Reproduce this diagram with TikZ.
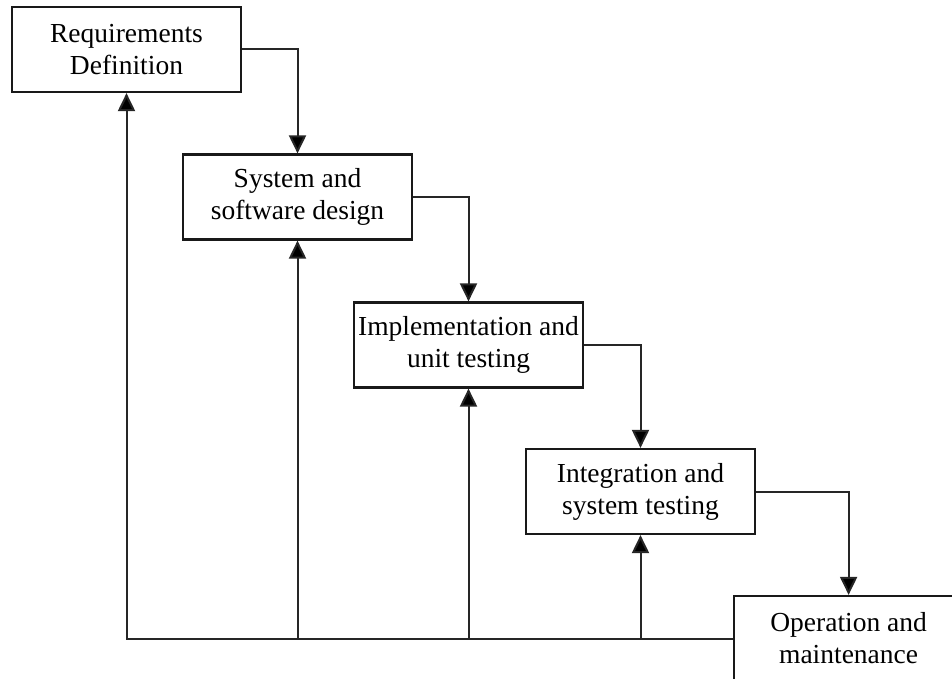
\documentclass[tikz,border=0pt]{standalone}
\usepackage{fontspec}
\setmainfont{Liberation Serif}
\usetikzlibrary{arrows.meta}
\begin{document}
\begin{tikzpicture}[x=1pt,y=-1pt,
  stage/.style={draw=black!90, line width=2.2pt, fill=white, minimum width=229pt, minimum height=85pt,
    inner sep=0pt, align=center, font=\fontsize{27.5}{32}\selectfont},
  flow/.style={draw=black!85, line width=2pt, -{Triangle[width=17pt,length=18pt,fill=black]}}]
\useasboundingbox (0,0) rectangle (952,679);
\clip (0,0) rectangle (952,679);
\node[stage] (b1) at (126.5,49.5) {Requirements\\Definition};
\node[stage] (b2) at (297.5,197) {System and\\software design};
\node[stage] (b3) at (468.5,345) {Implementation and\\unit testing};
\node[stage] (b4) at (640.5,491.5) {Integration and\\system testing};
\node[stage, anchor=west] (b5) at (733,638.5) {Operation and\\maintenance};
\draw[flow] (b1.east) -| (b2.north);
\draw[flow] (b2.east) -| (b3.north);
\draw[flow] (b3.east) -| (b4.north);
\draw[flow] (b4.east) -| (b5.north);
\draw[flow] (b5.west) -| (b1.south);
\draw[flow] (b2.south |- b5.west) -- (b2.south);
\draw[flow] (b3.south |- b5.west) -- (b3.south);
\draw[flow] (b4.south |- b5.west) -- (b4.south);
\end{tikzpicture}
\end{document}
